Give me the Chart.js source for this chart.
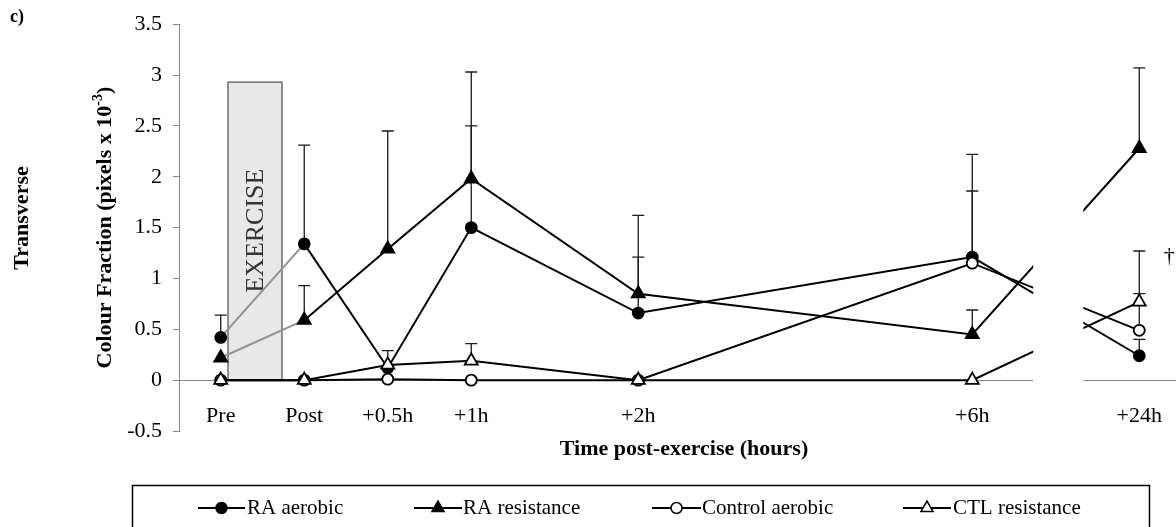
<!DOCTYPE html>
<html>
<head>
<meta charset="utf-8">
<script src="https://cdn.jsdelivr.net/npm/chart.js@4/dist/chart.umd.min.js"></script>
<style>
  html, body { margin: 0; padding: 0; background: #fff; }
  #wrap { width: 1176px; height: 527px; }
</style>
</head>
<body>
<div id="wrap"><canvas id="chart"></canvas></div>
<script>
// Time points. The x axis is a category axis with blank slots, so each point sits on its slot number
const timeLabels = ['Pre', 'Post', '+0.5h', '+1h', '+2h', '+6h', '+24h'];
const timeSlots = [0, 1, 2, 3, 5, 9, 11];

// Means (pixels x 10^-3)
const raAerobic = [0.42, 1.34, 0.12, 1.50, 0.66, 1.21, 0.24];
const raResistance = [0.22, 0.59, 1.29, 1.98, 0.85, 0.45, 2.28];
const controlAerobic = [0, 0, 0.01, 0, 0, 1.15, 0.49];
const ctlResistance = [0, 0, 0.15, 0.19, 0, 0, 0.77];

// Upper error bars (null = none shown)
const raAerobicErr = [0.22, 0.97, null, 1.00, 0.55, 0.65, 0.16];
const raResistanceErr = [null, 0.34, 1.16, 1.05, 0.77, 0.24, 0.79];
const controlAerobicErr = [null, null, null, null, null, 1.07, 0.36];
const ctlResistanceErr = [null, null, 0.14, 0.17, null, null, 0.50];

const yTicks = [-0.5, 0, 0.5, 1, 1.5, 2, 2.5, 3, 3.5];

const serif = "'Liberation Serif', 'Times New Roman', serif";

function points(values) {
    return values.map((v, i) => ({ x: timeSlots[i], y: v }));
}

// grey Pre -> Post segment on the RA lines
const greyFirst = {
    borderColor: c => c.p0DataIndex === 0 ? '#919191' : '#000'
};

const series = [
    { label: 'CTL resistance', data: points(ctlResistance), err: ctlResistanceErr,
      pointStyle: 'triangle', pointRadius: 7.5, pointBackgroundColor: '#fff' },
    { label: 'Control aerobic', data: points(controlAerobic), err: controlAerobicErr,
      pointStyle: 'circle', pointRadius: 5.5, pointBackgroundColor: '#fff' },
    { label: 'RA resistance', data: points(raResistance), err: raResistanceErr,
      pointStyle: 'triangle', pointRadius: 7.5, pointBackgroundColor: '#000', segment: greyFirst },
    { label: 'RA aerobic', data: points(raAerobic), err: raAerobicErr,
      pointStyle: 'circle', pointRadius: 5.5, pointBackgroundColor: '#000', segment: greyFirst }
];

const legendItems = [
    { text: 'RA aerobic', style: 'circle', fill: '#000', x1: 198, x2: 245, tx: 247 },
    { text: 'RA resistance', style: 'triangle', fill: '#000', x1: 414, x2: 462, tx: 463 },
    { text: 'Control aerobic', style: 'circle', fill: '#fff', x1: 652, x2: 701, tx: 702 },
    { text: 'CTL resistance', style: 'triangle', fill: '#fff', x1: 903, x2: 951, tx: 953 }
];

const decorations = {
    id: 'decorations',
    beforeDatasetsDraw(chart) {
        const { ctx, scales: { x, y } } = chart;
        ctx.save();

        // EXERCISE box
        const bx1 = x.getPixelForValue(0.087), bx2 = x.getPixelForValue(0.733);
        const by1 = y.getPixelForValue(2.93), by2 = y.getPixelForValue(0);
        ctx.fillStyle = '#e8e8e8';
        ctx.fillRect(bx1, by1, bx2 - bx1, by2 - by1);
        ctx.strokeStyle = '#6e6e6e';
        ctx.lineWidth = 1.5;
        ctx.strokeRect(bx1, by1, bx2 - bx1, by2 - by1);

        ctx.save();
        ctx.translate((bx1 + bx2) / 2, y.getPixelForValue(1.47));
        ctx.rotate(-Math.PI / 2);
        ctx.fillStyle = '#333';
        ctx.font = '26px ' + serif;
        ctx.textAlign = 'center';
        ctx.textBaseline = 'middle';
        ctx.fillText('EXERCISE', 0, 1);
        ctx.restore();

        // error bars, upward only
        ctx.strokeStyle = '#1a1a1a';
        ctx.lineWidth = 1.3;
        chart.data.datasets.forEach((ds, di) => {
            const meta = chart.getDatasetMeta(di);
            ds.err.forEach((e, i) => {
                if (e == null) return;
                const px = meta.data[i].x;
                const py = meta.data[i].y;
                const top = y.getPixelForValue(ds.data[i].y + e);
                ctx.beginPath();
                ctx.moveTo(px, py);
                ctx.lineTo(px, top);
                ctx.moveTo(px - 6, top);
                ctx.lineTo(px + 6, top);
                ctx.stroke();
            });
        });
        ctx.restore();
    },
    afterDatasetsDraw(chart) {
        const { ctx, scales: { x, y } } = chart;
        ctx.save();
        // axis break between +6h and +24h
        const m1 = x.getPixelForValue(9.73), m2 = x.getPixelForValue(10.33);
        ctx.fillStyle = '#fff';
        ctx.fillRect(m1, 0, m2 - m1, y.getPixelForValue(0) + 4);

        // significance mark
        ctx.fillStyle = '#000';
        ctx.font = '22px ' + serif;
        ctx.textAlign = 'center';
        ctx.textBaseline = 'middle';
        ctx.fillText('\u2020', x.getPixelForValue(11) + 30, y.getPixelForValue(1.22));
        ctx.restore();
    },
    afterDraw(chart) {
        const { ctx } = chart;
        const area = chart.chartArea;
        ctx.save();
        ctx.fillStyle = '#000';

        // panel letter
        ctx.font = 'bold 18px ' + serif;
        ctx.textAlign = 'left';
        ctx.textBaseline = 'alphabetic';
        ctx.fillText('c)', 10, 22);

        // x title
        ctx.font = 'bold 22px ' + serif;
        ctx.textAlign = 'center';
        ctx.textBaseline = 'middle';
        ctx.fillText('Time post-exercise (hours)', 684, 449);

        // y title with superscript
        const cy = (area.top + area.bottom) / 2;
        ctx.save();
        ctx.translate(104, cy);
        ctx.rotate(-Math.PI / 2);
        ctx.textAlign = 'left';
        ctx.textBaseline = 'alphabetic';
        const main = 'Colour Fraction (pixels x 10';
        const sup = '-3';
        const end = ')';
        ctx.font = 'bold 22px ' + serif;
        const w1 = ctx.measureText(main).width;
        const w3 = ctx.measureText(end).width;
        ctx.font = 'bold 14px ' + serif;
        const w2 = ctx.measureText(sup).width;
        let sx = -(w1 + w2 + w3) / 2;
        ctx.font = 'bold 22px ' + serif;
        ctx.fillText(main, sx, 7);
        ctx.font = 'bold 14px ' + serif;
        ctx.fillText(sup, sx + w1, -2);
        ctx.font = 'bold 22px ' + serif;
        ctx.fillText(end, sx + w1 + w2, 7);
        ctx.restore();

        // side label
        ctx.save();
        ctx.translate(22, 218);
        ctx.rotate(-Math.PI / 2);
        ctx.font = 'bold 22px ' + serif;
        ctx.textAlign = 'center';
        ctx.textBaseline = 'middle';
        ctx.fillText('Transverse', 0, 0);
        ctx.restore();

        // legend
        ctx.strokeStyle = '#000';
        ctx.lineWidth = 1.5;
        ctx.strokeRect(132.5, 485.5, 1017, 80);
        const ly = 508;
        legendItems.forEach(item => {
            ctx.strokeStyle = '#000';
            ctx.lineWidth = 2;
            ctx.beginPath();
            ctx.moveTo(item.x1, ly);
            ctx.lineTo(item.x2, ly);
            ctx.stroke();
            ctx.fillStyle = item.fill;
            ctx.lineWidth = 1.5;
            Chart.helpers.drawPoint(ctx, {
                pointStyle: item.style,
                radius: item.style === 'triangle' ? 7 : 5.5,
                rotation: 0,
                borderWidth: 1.5
            }, (item.x1 + item.x2) / 2, ly);
            ctx.fillStyle = '#000';
            ctx.font = '21px ' + serif;
            ctx.textAlign = 'left';
            ctx.textBaseline = 'middle';
            ctx.fillText(item.text, item.tx, ly);
        });
        ctx.restore();
    }
};

new Chart(document.getElementById('chart'), {
    type: 'line',
    data: {
        datasets: series.map(s => Object.assign({
            borderColor: '#000',
            borderWidth: 2,
            pointBorderColor: '#000',
            pointBorderWidth: 1.8,
            fill: false,
            tension: 0
        }, s))
    },
    options: {
        responsive: true,
        maintainAspectRatio: false,
        animation: false,
        layout: { autoPadding: false, padding: { top: 24, bottom: 96, left: 0, right: 0 } },
        plugins: {
            legend: { display: false },
            tooltip: { enabled: false }
        },
        scales: {
            x: {
                type: 'linear',
                min: -0.5,
                max: 11.44,
                position: { y: 0 },
                grid: { display: false },
                border: { color: '#868686', width: 1 },
                afterBuildTicks: scale => {
                    scale.ticks = timeSlots.map(v => ({ value: v }));
                },
                afterFit: scale => {
                    scale.paddingLeft = 0;
                    scale.paddingRight = 0;
                },
                ticks: {
                    autoSkip: false,
                    maxRotation: 0,
                    padding: 15,
                    color: '#000',
                    font: { family: serif, size: 22 },
                    callback: v => timeLabels[timeSlots.indexOf(v)]
                }
            },
            y: {
                min: -0.5,
                max: 3.5,
                afterFit: scale => { scale.width = 179; },
                afterBuildTicks: scale => {
                    scale.ticks = yTicks.map(v => ({ value: v }));
                },
                grid: { display: true, drawOnChartArea: false, drawTicks: true, tickLength: 6, color: '#868686' },
                border: { color: '#868686', width: 1 },
                ticks: {
                    padding: 11,
                    color: '#000',
                    font: { family: serif, size: 22 },
                    callback: v => String(v)
                }
            }
        }
    },
    plugins: [decorations]
});
</script>
</body>
</html>
